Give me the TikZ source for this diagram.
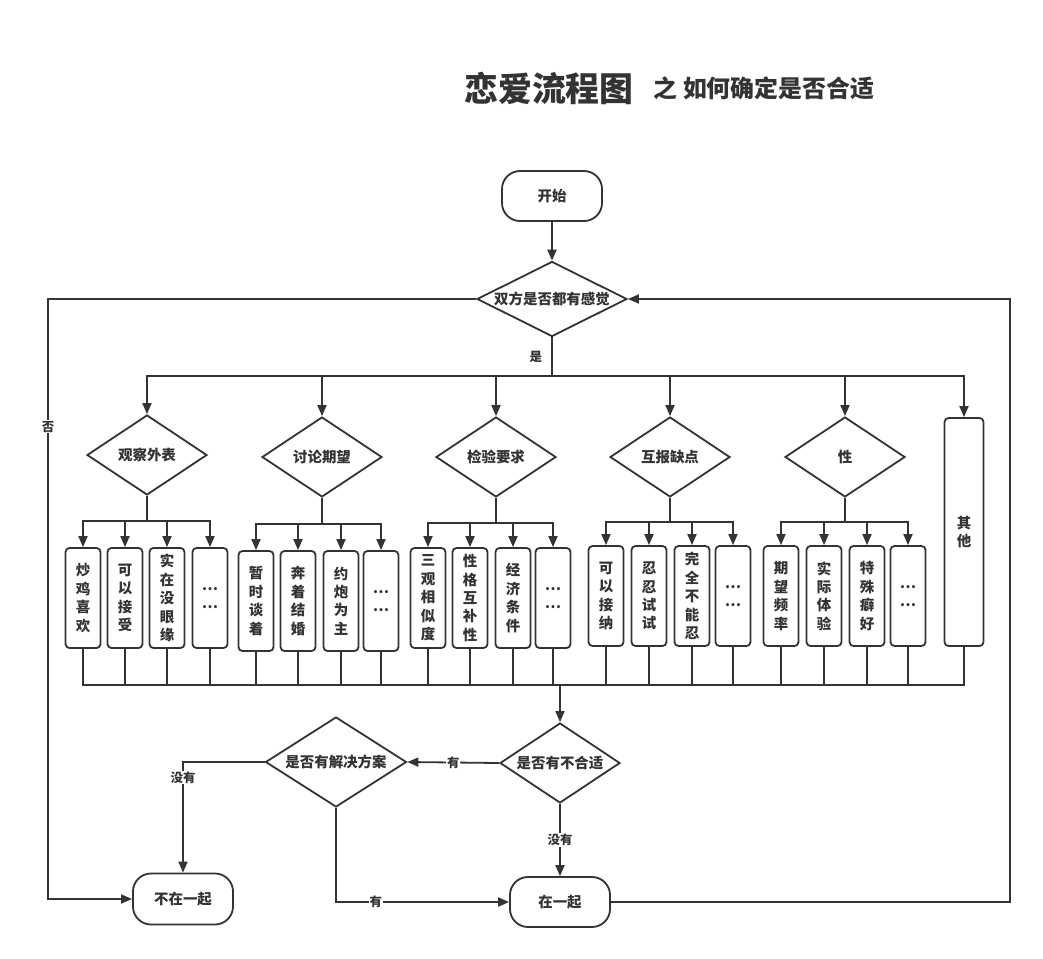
\documentclass[tikz,border=0pt]{standalone}
\usepackage{fontspec}
\setmainfont{Noto Sans CJK SC}
\usetikzlibrary{shapes.geometric,arrows.meta}
\definecolor{ink}{HTML}{333333}
\begin{document}
\begin{tikzpicture}[x=1bp, y=-1bp, line width=1.8bp, draw=ink,
  every node/.style={text=ink, font=\bfseries\fontsize{14.5}{18.5}\selectfont},
  term/.style={draw=ink, rounded corners=18bp, minimum width=100bp, minimum height=50bp},
  dec/.style={draw=ink, diamond, shape aspect=1.5, inner sep=0pt, minimum width=120bp, minimum height=80bp},
  leaf/.style={draw=ink, rounded corners=4bp, inner sep=0pt, align=center, minimum width=35bp, minimum height=100bp},
  lbl/.style={fill=white, inner sep=1bp, font=\bfseries\fontsize{12.5}{14}\selectfont},
  arr/.style={-{Triangle[length=11bp,width=9bp]}}]
\fill[white] (0,0) rectangle (1043,959);
\useasboundingbox (0,0) rectangle (1043,959);
% title
\node[font=\bfseries\fontsize{34}{40}\selectfont] (ttl) at (549,88){恋爱流程图};
\node[font=\bfseries\fontsize{24}{28}\selectfont] (sub) at (764,88){之 如何确定是否合适};
% top
\node[term] (st) at (552,196){开始};
\node[dec, shape aspect=2, minimum width=150bp, minimum height=75bp] (q0) at (552,299){双方是否都有感觉};
\draw[arr](st) -- (q0);
\coordinate (j0) at (552,376);
\node[dec] (q1) at (147,455){观察外表};
\node[dec] (q2) at (322,457){讨论期望};
\node[dec] (q3) at (496,457){检验要求};
\node[dec] (q4) at (670,457){互报缺点};
\node[dec] (q5) at (845,457){性};
\node[leaf, minimum width=39bp, minimum height=228bp] (oth) at (964,532){其\\他};
\draw[arr](q0.south) -- node[lbl, left=8bp]{是} (j0) -| (q1.north);
\draw[arr](j0) -| (q2.north);
\draw[arr](j0) -| (q3.north);
\draw[arr](j0) -| (q4.north);
\draw[arr](j0) -| (q5.north);
\draw[arr](j0) -| (oth.north);
% observe
\coordinate (j1) at (147,521);
\node[leaf] (b11) at (83,598){炒\\鸡\\喜\\欢};
\node[leaf] (b12) at (125,598){可\\以\\接\\受};
\node[leaf] (b13) at (167,598){实\\在\\没\\眼\\缘};
\node[leaf] (b14) at (210,598){…\\…};
\draw[arr](q1.south) -- (j1) -| (b11.north);
\draw[arr](j1) -| (b12.north);
\draw[arr](j1) -| (b13.north);
\draw[arr](j1) -| (b14.north);
% discuss
\coordinate (j2) at (322,524);
\node[leaf] (b21) at (256,601){暂\\时\\谈\\着};
\node[leaf] (b22) at (298,601){奔\\着\\结\\婚};
\node[leaf] (b23) at (341,601){约\\炮\\为\\主};
\node[leaf] (b24) at (381,601){…\\…};
\draw[arr](q2.south) -- (j2) -| (b21.north);
\draw[arr](j2) -| (b22.north);
\draw[arr](j2) -| (b23.north);
\draw[arr](j2) -| (b24.north);
% check
\coordinate (j3) at (496,523);
\node[leaf] (b31) at (428,598){三\\观\\相\\似\\度};
\node[leaf] (b32) at (470,598){性\\格\\互\\补\\性};
\node[leaf] (b33) at (513,598){经\\济\\条\\件};
\node[leaf] (b34) at (553,598){…\\…};
\draw[arr](q3.south) -- (j3) -| (b31.north);
\draw[arr](j3) -| (b32.north);
\draw[arr](j3) -| (b33.north);
\draw[arr](j3) -| (b34.north);
% faults
\coordinate (j4) at (670,522);
\node[leaf] (b41) at (606,596){可\\以\\接\\纳};
\node[leaf] (b42) at (649,596){忍\\忍\\试\\试};
\node[leaf] (b43) at (692,596){完\\全\\不\\能\\忍};
\node[leaf] (b44) at (733,596){…\\…};
\draw[arr](q4.south) -- (j4) -| (b41.north);
\draw[arr](j4) -| (b42.north);
\draw[arr](j4) -| (b43.north);
\draw[arr](j4) -| (b44.north);
% sex
\coordinate (j5) at (845,522);
\node[leaf] (b51) at (781,596){期\\望\\频\\率};
\node[leaf] (b52) at (824,596){实\\际\\体\\验};
\node[leaf] (b53) at (867,596){特\\殊\\癖\\好};
\node[leaf] (b54) at (908,596){…\\…};
\draw[arr](q5.south) -- (j5) -| (b51.north);
\draw[arr](j5) -| (b52.north);
\draw[arr](j5) -| (b53.north);
\draw[arr](j5) -| (b54.north);
% merge
\coordinate (j6) at (560,685);
\draw(b11.south) |- (j6);
\draw(b12.south) |- (j6);
\draw(b13.south) |- (j6);
\draw(b14.south) |- (j6);
\draw(b21.south) |- (j6);
\draw(b22.south) |- (j6);
\draw(b23.south) |- (j6);
\draw(b24.south) |- (j6);
\draw(b31.south) |- (j6);
\draw(b32.south) |- (j6);
\draw(b33.south) |- (j6);
\draw(b34.south) |- (j6);
\draw(b41.south) |- (j6);
\draw(b42.south) |- (j6);
\draw(b43.south) |- (j6);
\draw(b44.south) |- (j6);
\draw(b51.south) |- (j6);
\draw(b52.south) |- (j6);
\draw(b53.south) |- (j6);
\draw(b54.south) |- (j6);
\draw(oth.south) |- (j6);
% bottom
\node[dec] (q6) at (560,763){是否有不合适};
\node[dec, shape aspect=1.57, minimum width=141bp, minimum height=90bp] (q7) at (336,762){是否有解决方案};
\node[term, minimum height=51bp] (ns) at (183,899){不在一起};
\node[term] (tog) at (560,902){在一起};
\draw[arr](j6) -- (q6.north);
\draw[arr](q6.west) -- node[lbl, midway]{有} (q7.east);
\draw[arr](q6.south) -- node[lbl, midway]{没有} (tog.north);
\draw[arr](q7.west) -| node[lbl, pos=0.57]{没有} (ns.north);
\draw[arr](q7.south) |- node[lbl, pos=0.615]{有} (tog.west);
% loops
\coordinate (k1) at (48,299);
\coordinate (k2) at (48,899);
\coordinate (k3) at (1010,902);
\coordinate (k4) at (1010,299);
\draw[arr](q0.west) -- (k1) -- node[lbl, pos=0.213]{否} (k2) -- (ns.west);
\draw[arr](tog.east) -- (k3) -- (k4) -- (q0.east);

\end{tikzpicture}
\end{document}
